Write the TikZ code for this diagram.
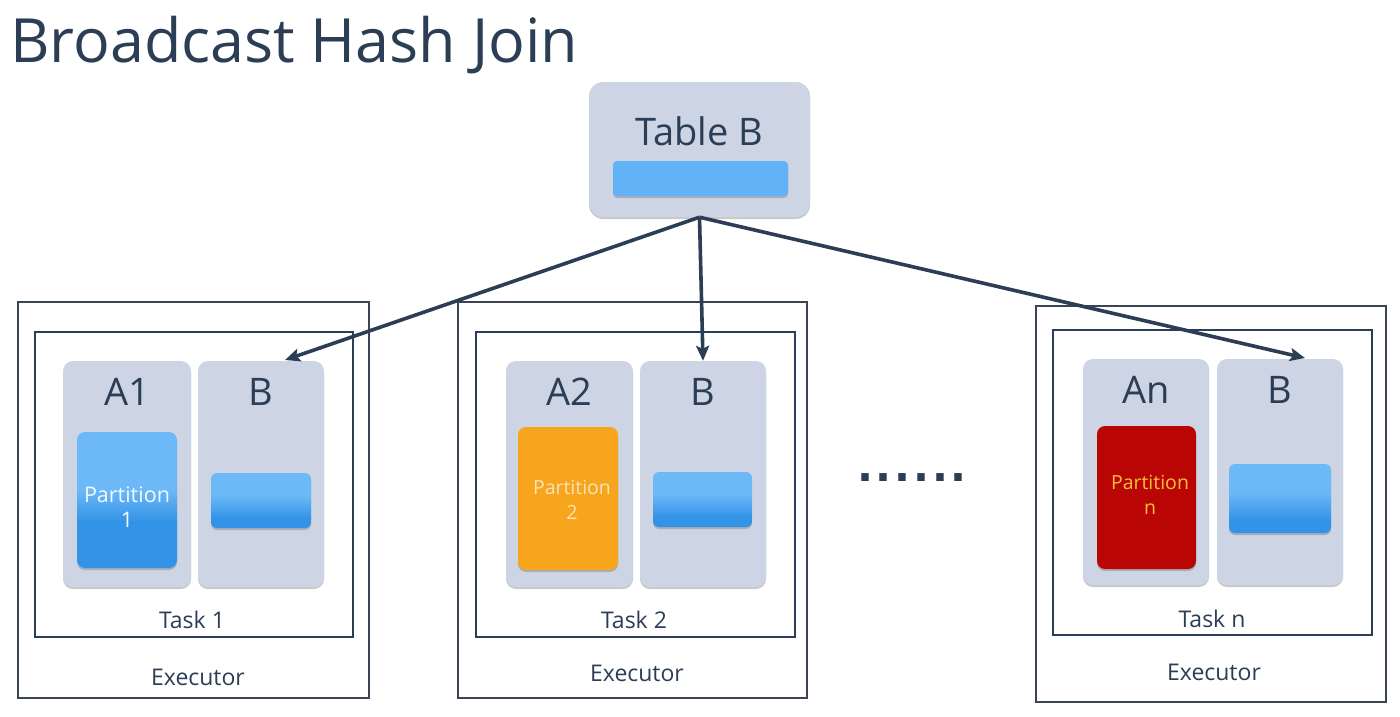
\documentclass[tikz,border=0pt]{standalone}
\usepackage{fontspec}
\setmainfont{Open Sans}
\newfontfamily\dotfont{DejaVu Sans Bold}
\usetikzlibrary{shadows,arrows.meta}
\definecolor{ink}{HTML}{2C3E55}
\definecolor{panel}{HTML}{CDD5E4}
\definecolor{lblue}{HTML}{6DB9F7}
\definecolor{dblue}{HTML}{3393E7}
\definecolor{barblue}{HTML}{62B2F8}
\definecolor{orng}{HTML}{F7A51C}
\definecolor{redd}{HTML}{BA0505}
\definecolor{boxline}{HTML}{3A4452}
\definecolor{ptwo}{HTML}{FBE3B8}
\definecolor{pn}{HTML}{F7C03A}
\pgfdeclareverticalshading{partshade}{100bp}{color(0bp)=(dblue); color(25bp)=(dblue); color(42bp)=(dblue); color(54bp)=(lblue); color(75bp)=(lblue); color(100bp)=(lblue)}
\pgfdeclareverticalshading{barshade}{100bp}{color(0bp)=(dblue); color(25bp)=(dblue); color(34bp)=(dblue); color(55bp)=(lblue); color(75bp)=(lblue); color(100bp)=(lblue)}
\begin{document}
\begin{tikzpicture}[x=1pt,y=-1pt,
  sh/.style={drop shadow={shadow xshift=0pt,shadow yshift=-2pt,opacity=0.35,fill=black!60}},
  execbox/.style={draw=boxline,line width=1.4pt,minimum width=#1,inner sep=0pt,minimum height=396pt},
  taskbox/.style={draw=ink,line width=2pt,minimum width=319pt,minimum height=305pt,inner sep=0pt},
  panelbox/.style={fill=panel,rounded corners=10pt,minimum width=#1,minimum height=226pt,inner sep=0pt,sh},
  partbox/.style={rounded corners=8pt,minimum width=100pt,inner sep=0pt,sh},
  bbar/.style={rounded corners=6pt,shading=barshade,minimum width=100pt,inner sep=0pt,sh},
  big/.style={text=ink,font=\fontsize{38}{44}\selectfont,anchor=base,inner sep=0pt},
  small/.style={text=ink,font=\fontsize{23}{26}\selectfont,anchor=base,inner sep=0pt},
  ptext/.style={font=\fontsize{19.5}{25}\selectfont,align=center,inner sep=0pt},
  arrowline/.style={draw=ink,line width=3.6pt,-{Stealth[length=15pt,width=13pt,inset=3pt]}}
]
\useasboundingbox (0,0) rectangle (1400,716);
\fill[white] (0,0) rectangle (1400,716);

% title
\node[anchor=base west,inner sep=0pt,text=ink,font=\fontsize{61}{70}\selectfont] (title) at (10,62) {Broadcast Hash Join};

% Table B
\node[fill=panel,rounded corners=14pt,minimum width=221pt,minimum height=135pt,inner sep=0pt,sh] (tb) at (699.5,149.5) {};
\node[big] (tbl) at (699,145) {Table B};
\node[fill=barblue,rounded corners=4pt,minimum width=175pt,minimum height=35pt,inner sep=0pt,sh] (tbar) at (700.5,178.5) {};

% Executor 1
\node[execbox=351pt] (ex1) at (193.5,500) {};
\node[taskbox,minimum width=318pt] (tk1) at (194,484.5) {};
\node[panelbox=128pt] (pa1) at (127,474) {};
\node[panelbox=126pt] (pb1) at (261,474) {};
\node[partbox,shading=partshade,minimum height=136pt] (part1) at (127,500) {};
\node[bbar,minimum height=55pt] (bar1) at (261,500.5) {};
\node[big] (la1) at (127,405) {A1};
\node[big] (lb1) at (261,405) {B};
\node[ptext,text=white!92!lblue,font=\fontsize{21.5}{25}\selectfont] (pt1) at (127,507) {Partition\\1};
\node[small] (lt1) at (192,628) {Task 1};
\node[small] (le1) at (198,685) {Executor};

% Executor 2
\node[execbox=349pt] (ex2) at (632.5,500) {};
\node[taskbox] (tk2) at (635.5,484.5) {};
\node[panelbox=127pt] (pa2) at (569.5,474) {};
\node[panelbox=126pt] (pb2) at (703,474) {};
\node[partbox,fill=orng,minimum height=143pt] (part2) at (568,498.5) {};
\node[bbar,minimum height=55pt,minimum width=99pt] (bar2) at (702.5,499.5) {};
\node[big] (la2) at (569.5,405) {A2};
\node[big] (lb2) at (703,405) {B};
\node[ptext,text=ptwo] (pt2) at (572,500) {Partition\\2};
\node[small] (lt2) at (634,628) {Task 2};
\node[small] (le2) at (637,681) {Executor};

% dots
\node[anchor=base,inner sep=0pt,text=ink,font=\dotfont\fontsize{42}{50}\selectfont] (dots) at (912,481) {.\kern2.8pt.\kern2.8pt.\kern2.8pt.\kern2.8pt.\kern2.8pt.};

% Executor n
\node[execbox=350pt] (exn) at (1211,504) {};
\node[taskbox] (tkn) at (1212.5,482.5) {};
\node[panelbox=126pt] (pan) at (1146,472) {};
\node[panelbox=126pt] (pbn) at (1280,472) {};
\node[partbox,fill=redd,minimum height=143pt,minimum width=99pt] (partn) at (1146.5,497.5) {};
\node[bbar,minimum height=69pt,minimum width=102pt] (barn) at (1280,498.5) {};
\node[big] (lan) at (1146,403) {An};
\node[big] (lbn) at (1280,403) {B};
\node[ptext,text=pn] (ptn) at (1150,495) {Partition\\n};
\node[small] (ltn) at (1212,627) {Task n};
\node[small] (len) at (1214,680) {Executor};

% arrows
\coordinate (tip1) at (285,360);
\coordinate (tipn) at (1305,358);
\draw[arrowline] (tb.south) -- (tip1);
\draw[arrowline] (tb.south) -- (pb2.north);
\draw[arrowline] (tb.south) -- (tipn);
\end{tikzpicture}
\end{document}
